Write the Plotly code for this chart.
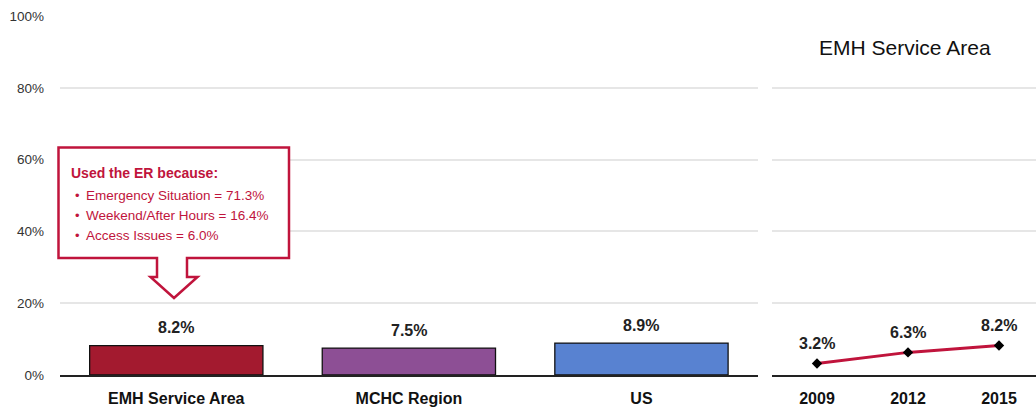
import plotly.graph_objects as go

categories = ["EMH Service Area", "MCHC Region", "US"]
bar_values = [8.2, 7.5, 8.9]
bar_colors = ["#A31A2F", "#8D4F95", "#5882D1"]

years = ["2009", "2012", "2015"]
trend_values = [3.2, 6.3, 8.2]

y_ticks = [0, 20, 40, 60, 80, 100]
y_tick_labels = ["0%", "20%", "40%", "60%", "80%", "100%"]

callout_title = "Used the ER because:"
callout_items = ["Emergency Situation = 71.3%", "Weekend/After Hours = 16.4%", "Access Issues = 6.0%"]

FONT = "Liberation Sans, Arial, sans-serif"
RED = "#C0143C"

W, H = 1036, 413
ML, MR, MT, MB = 60, 0, 16, 38
PW = W - ML - MR
PH = H - MT - MB


def px(x):
    return (x - ML) / PW


def py(y):
    return (H - MB - y) / PH


fig = go.Figure()

fig.add_trace(go.Bar(
    x=categories, y=bar_values, marker=dict(color=bar_colors, line=dict(color="#111111", width=1.3)),
    width=0.745, xaxis="x", yaxis="y", hoverinfo="skip", showlegend=False,
))

fig.add_trace(go.Scatter(
    x=years, y=trend_values, mode="lines+markers",
    line=dict(color=RED, width=3),
    marker=dict(symbol="diamond", size=8, color="#000000"),
    xaxis="x2", yaxis="y2", hoverinfo="skip", showlegend=False,
))

annotations = []
for i, v in enumerate(bar_values):
    annotations.append(dict(x=i, y=v, xref="x", yref="y", text=f"<b>{v:.1f}%</b>", showarrow=False,
                            yanchor="middle", yshift=18, font=dict(family=FONT, size=16, color="#222222")))
for i, v in enumerate(trend_values):
    annotations.append(dict(x=i, y=v, xref="x2", yref="y2", text=f"<b>{v:.1f}%</b>", showarrow=False,
                            yanchor="middle", yshift=20, font=dict(family=FONT, size=16, color="#222222")))

annotations.append(dict(x=px(905), y=py(47), xref="paper", yref="paper", text="EMH Service Area",
                        showarrow=False, xanchor="center", yanchor="middle",
                        font=dict(family=FONT, size=21, color="#111111")))

# callout text, one annotation per line
annotations.append(dict(x=px(69), y=py(173), xref="paper", yref="paper", text=f"<b>{callout_title}</b>",
                        showarrow=False, xanchor="left", yanchor="middle",
                        font=dict(family=FONT, size=14, color=RED)))
for i, item in enumerate(callout_items):
    yc = 195 + 20 * i
    annotations.append(dict(x=px(73), y=py(yc), xref="paper", yref="paper", text="•",
                            showarrow=False, xanchor="left", yanchor="middle",
                            font=dict(family=FONT, size=13, color=RED)))
    annotations.append(dict(x=px(84), y=py(yc), xref="paper", yref="paper", text=item,
                            showarrow=False, xanchor="left", yanchor="middle",
                            font=dict(family=FONT, size=13.5, color=RED)))

# callout box with downward arrow (paper coords)
pts = [(58.5, 147.5), (289, 147.5), (289, 258), (187, 258), (187, 277), (197.5, 277), (174, 298),
       (150.5, 277), (157, 277), (157, 258), (58.5, 258)]
path = "M " + " L ".join(f"{px(x):.5f},{py(y):.5f}" for x, y in pts) + " Z"

shapes = [dict(type="path", path=path, xref="paper", yref="paper", line=dict(color=RED, width=2.5),
               fillcolor="white", layer="above")]

x1_dom = [0, (757.75 - ML) / PW]
x2_dom = [(771.5 - ML) / PW, 1]

fig.update_layout(
    width=W, height=H,
    margin=dict(l=ML, r=MR, t=MT, b=MB),
    paper_bgcolor="white", plot_bgcolor="white",
    font=dict(family=FONT),
    xaxis=dict(domain=x1_dom, type="category", range=[-0.5, 2.5], showline=True, linecolor="#222222",
               linewidth=1.5, ticks="", showgrid=False, fixedrange=True,
               tickfont=dict(family=FONT, size=16, color="#111111"), ticklabelstandoff=8,
               tickprefix="<b>", ticksuffix="</b>"),
    yaxis=dict(range=[0, 100], tickvals=y_ticks, ticktext=y_tick_labels, showgrid=True,
               gridcolor="#E6E6E6", gridwidth=1.5, zeroline=False, showline=False,
               tickfont=dict(family=FONT, size=13.5, color="#333333"), ticklabelstandoff=15),
    xaxis2=dict(domain=x2_dom, type="category", range=[-0.5, (W - 771.5) / 91 - 0.5], anchor="y2",
                showline=True, linecolor="#222222", linewidth=1.5, ticks="", showgrid=False,
                tickfont=dict(family=FONT, size=16, color="#111111"), ticklabelstandoff=8,
                tickprefix="<b>", ticksuffix="</b>"),
    yaxis2=dict(range=[0, 100], anchor="x2", tickvals=y_ticks, showticklabels=False, showgrid=True,
                gridcolor="#E6E6E6", gridwidth=1.5, zeroline=False, showline=False),
    annotations=annotations,
    shapes=shapes,
)

fig.write_html("out.html", config={"displayModeBar": False},
               post_script="document.body.style.margin='0';document.body.style.overflow='hidden';")
